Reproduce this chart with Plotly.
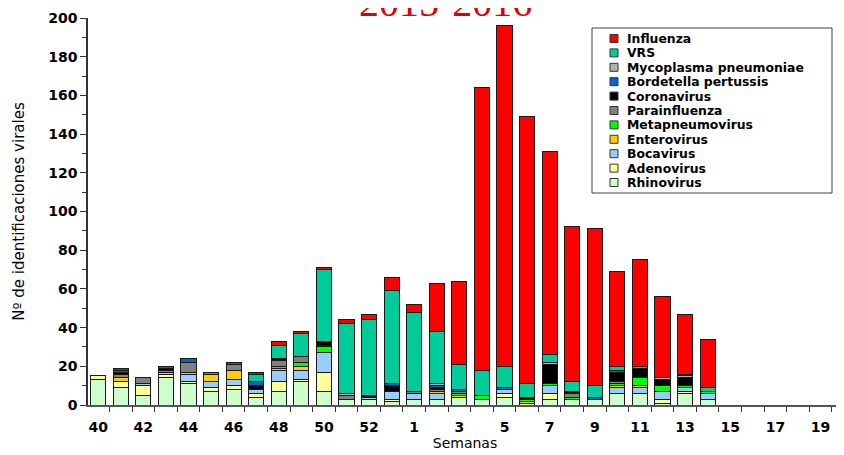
import plotly.graph_objects as go

# ---- data ----
weeks_all = [str(w) for w in range(40, 54)] + [str(w) for w in range(1, 21)]
weeks_data = [str(w) for w in range(40, 54)] + [str(w) for w in range(1, 15)]
tick_labels = ["40", "42", "44", "46", "48", "50", "52", "1", "3", "5", "7", "9",
               "11", "13", "15", "17", "19"]

rhinovirus =      [13, 9, 5, 14, 11, 7, 8, 4, 7, 12, 7, 3, 3, 2, 3, 3, 4, 3, 4, 1, 3, 3, 3, 6, 6, 1, 6, 3]
adenovirus =      [2, 3, 5, 2, 1, 2, 2, 2, 5, 1, 10, 0, 0, 1, 0, 0, 0, 0, 2, 0, 3, 0, 0, 0, 0, 2, 1, 0]
bocavirus =       [0, 0, 1, 1, 4, 3, 3, 2, 6, 5, 10, 0, 1, 4, 3, 3, 0, 0, 2, 0, 4, 0, 0, 3, 3, 4, 2, 3]
enterovirus =     [0, 2, 0, 0, 1, 4, 5, 0, 1, 2, 0, 0, 0, 0, 0, 1, 1, 0, 0, 1, 0, 0, 0, 1, 1, 0, 0, 0]
metapneumovirus = [0, 0, 0, 0, 0, 0, 0, 0, 1, 2, 3, 0, 0, 0, 0, 0, 1, 2, 0, 1, 1, 1, 0, 1, 4, 3, 1, 1]
parainfluenza =   [0, 2, 3, 1, 5, 1, 3, 0, 3, 3, 1, 2, 0, 0, 1, 1, 1, 0, 0, 0, 0, 2, 0, 1, 0, 0, 0, 0]
coronavirus =     [0, 1, 0, 1, 0, 0, 0, 2, 1, 0, 2, 0, 1, 3, 0, 1, 0, 0, 0, 1, 10, 1, 0, 5, 5, 3, 4, 0]
bordetella =      [0, 1, 0, 1, 2, 0, 1, 2, 0, 0, 0, 0, 0, 1, 0, 1, 1, 0, 1, 0, 0, 0, 1, 1, 0, 0, 0, 0]
mycoplasma =      [0, 0, 0, 0, 0, 0, 0, 0, 0, 0, 0, 1, 0, 0, 0, 1, 0, 0, 0, 0, 1, 0, 0, 0, 0, 1, 1, 0]
vrs =             [0, 0, 0, 0, 0, 0, 0, 4, 7, 12, 37, 36, 39, 48, 41, 27, 13, 13, 11, 7, 4, 5, 6, 2, 1, 0, 1, 2]
influenza =       [0, 1, 0, 0, 0, 0, 0, 1, 2, 1, 1, 2, 3, 7, 4, 25, 43, 146, 176, 138, 105, 80, 81, 49, 55, 42, 31, 25]

series_names = ["Rhinovirus", "Adenovirus", "Bocavirus", "Enterovirus", "Metapneumovirus",
                "Parainfluenza", "Coronavirus", "Bordetella pertussis", "Mycoplasma pneumoniae",
                "VRS", "Influenza"]
series_values = [rhinovirus, adenovirus, bocavirus, enterovirus, metapneumovirus,
                 parainfluenza, coronavirus, bordetella, mycoplasma, vrs, influenza]
series_colors = ["#CCFFCC", "#FFFF99", "#99CCFF", "#FFCC00", "#00FF00",
                 "#808080", "#000000", "#0066CC", "#B2B2B2", "#00CC99", "#FF0000"]

# ---- figure ----
OFF = 8  # page body margin offset
W, H = 844 - OFF, 455 - OFF
ml, mr, mt, mb = 88 - OFF, 2, 18 - OFF, 50
pw, ph = W - ml - mr, H - mt - mb

def px_x(px):  # window pixel -> paper
    return (px - OFF - ml) / pw

def px_y(py):
    return (H - mb - (py - OFF)) / ph

fig = go.Figure()
for name, vals, col in zip(series_names, series_values, series_colors):
    fig.add_trace(go.Bar(
        x=weeks_data, y=vals, name=name,
        marker=dict(color=col, line=dict(color="#1a1a1a", width=1)),
        showlegend=False,
    ))

bold = "DejaVu Sans"
fig.update_layout(
    width=W, height=H,
    margin=dict(l=ml, r=mr, t=mt, b=mb, pad=0, autoexpand=False),
    barmode="stack", bargap=0.33,
    plot_bgcolor="white", paper_bgcolor="white",
    font=dict(family="DejaVu Sans", color="black"),
)
tickvals = weeks_all
ticktext = [("<b>%s</b>" % w) if w in tick_labels else "" for w in weeks_all]
fig.update_xaxes(
    type="category", categoryorder="array", categoryarray=weeks_all,
    range=[-0.45, 32.95], automargin=False,
    tickmode="array", tickvals=tickvals, ticktext=ticktext, tickangle=0,
    tickson="boundaries", ticks="outside", ticklen=5, tickcolor="#333",
    tickfont=dict(family=bold, size=14, color="black"),
    ticklabelstandoff=8,
    showline=True, linecolor="#555", linewidth=1.5, showgrid=False, zeroline=False,
    title=dict(text="Semanas", font=dict(family="DejaVu Sans", size=14), standoff=5),
)
fig.update_yaxes(
    range=[0, 200], dtick=20, ticks="outside", ticklen=6, tickcolor="#333",
    automargin=False,
    tickfont=dict(family=bold, size=14, color="black"),
    tickprefix="<b>", ticksuffix="</b>",
    minor=dict(dtick=10, ticks="outside", ticklen=4, tickcolor="#333"),
    showline=True, linecolor="#333", linewidth=1.5, showgrid=False, zeroline=False,
    title=dict(text="Nº de identificaciones virales", font=dict(family="DejaVu Sans", size=15), standoff=20),
)

# title (partly cut at the top, as in the reference)
fig.add_annotation(
    text="2015-2016", xref="paper", yref="paper", x=px_x(445), y=px_y(3),
    xanchor="center", yanchor="middle", showarrow=False,
    font=dict(family="Liberation Serif", size=40, color="#E00000"),
)

# legend box (drawn manually to match compact spacing)
fig.add_shape(type="rect", xref="paper", yref="paper",
              x0=px_x(592), x1=px_x(832), y0=px_y(193), y1=px_y(28),
              line=dict(color="#404040", width=1), fillcolor="white", layer="above")
legend_order = list(zip(series_names, series_colors))[::-1]
for i, (name, col) in enumerate(legend_order):
    cy = 38.5 + 14.4 * i
    fig.add_shape(type="rect", xref="paper", yref="paper",
                  x0=px_x(610), x1=px_x(618), y0=px_y(cy + 4), y1=px_y(cy - 4),
                  line=dict(color="#333", width=1), fillcolor=col, layer="above")
    fig.add_annotation(text="<b>%s</b>" % name, xref="paper", yref="paper",
                       x=px_x(625), y=px_y(cy), xanchor="left", yanchor="middle",
                       showarrow=False, font=dict(family=bold, size=12.4, color="black"))

fig.write_html("out.html")
